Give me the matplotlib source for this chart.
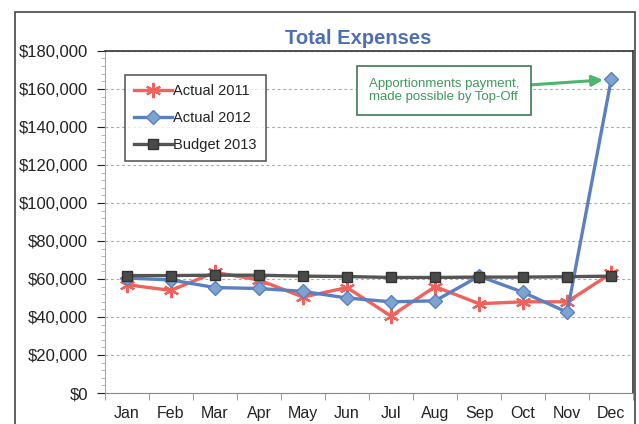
import matplotlib.pyplot as plt
from matplotlib.ticker import FuncFormatter, MultipleLocator, FixedLocator
from matplotlib.patches import Rectangle

plt.rcParams['font.family'] = ['Liberation Sans', 'DejaVu Sans']

months = ['Jan', 'Feb', 'Mar', 'Apr', 'May', 'Jun',
          'Jul', 'Aug', 'Sep', 'Oct', 'Nov', 'Dec']
actual_2011 = [57000, 54000, 63500, 59500, 50500, 55500,
               40500, 56000, 47000, 48000, 48000, 63000]
actual_2012 = [60500, 59500, 55500, 55000, 53500, 50000,
               48000, 48500, 61500, 53000, 42500, 165000]
budget_2013 = [61800, 61800, 62000, 62000, 61500, 61300,
               60800, 60800, 61000, 61000, 61200, 61500]

fig = plt.figure(figsize=(6.39, 4.24), dpi=100)
ax = fig.add_axes([0.164, 0.073, 0.827, 0.807])

x = range(len(months))
ax.plot(x, actual_2011, color='#f2625c', lw=2.4, marker=(6, 2, 0), ms=11,
        mew=1.6, mec='#f2625c', label='Actual 2011', zorder=3)
ax.plot(x, actual_2012, color='#5a80c2', lw=2.4, marker='D', ms=7.5,
        mfc='#7fa3cf', mec='#5a80c2', label='Actual 2012', zorder=4)
ax.plot(x, budget_2013, color='#555555', lw=2.4, marker='s', ms=7.5,
        mfc='#4a4a4a', mec='#333333', label='Budget 2013', zorder=5)

ax.set_xlim(-0.5, 11.5)
ax.set_ylim(0, 180000)
ax.yaxis.set_major_locator(MultipleLocator(20000))
ax.yaxis.set_minor_locator(MultipleLocator(4000))
ax.yaxis.set_major_formatter(FuncFormatter(lambda v, p: f'${v:,.0f}'))
ax.set_xticks(list(x))
ax.set_xticklabels(months)
ax.xaxis.set_minor_locator(FixedLocator([i + 0.5 for i in range(-1, 12)]))
ax.tick_params(axis='x', which='major', length=0, pad=9, labelsize=11.5,
               colors='#222222')
ax.tick_params(axis='x', which='minor', length=5, color='#888888')
ax.tick_params(axis='y', which='major', length=6, labelsize=12,
               colors='#222222', pad=6)
ax.tick_params(axis='y', which='minor', length=3, color='#aaaaaa')
ax.grid(axis='y', which='major', ls=(0, (2.5, 2.5)), color='#aaaaaa', lw=0.8)
for side in ['top', 'right']:
    ax.spines[side].set_color('#333333')
    ax.spines[side].set_linewidth(1.2)
ax.spines['left'].set_color('#aaaaaa')
ax.spines['bottom'].set_color('#888888')

ax.set_title('Total Expenses', fontsize=14.5, fontweight='bold',
             color='#4f6fb5', x=0.48, pad=5)

leg = ax.legend(loc='upper left', bbox_to_anchor=(0.025, 0.95),
                fontsize=10.5, frameon=True, fancybox=False,
                handlelength=2.6, handletextpad=0.1, borderpad=0.6,
                labelspacing=0.9)
leg.get_frame().set_edgecolor('#333333')
leg.get_frame().set_linewidth(1.2)
for t in leg.get_texts():
    t.set_color('#222222')

ax.annotate('Apportionments payment,\nmade possible by Top-Off',
            xy=(11, actual_2012[11]), xytext=(7.2, 159000),
            ha='center', va='center', multialignment='center',
            fontsize=9.5, color='#3d9a5c', linespacing=1.1,
            bbox=dict(boxstyle='square,pad=0.9', fc='white',
                      ec='#3d7a55', lw=1.2),
            arrowprops=dict(arrowstyle='-|>', color='#4cb56e', lw=2.2,
                            mutation_scale=16, shrinkA=0, shrinkB=6))

# outer chart border
fig.patches.append(Rectangle((15 / 639, -0.01), 0.97, 1 - 12 / 424 + 0.01,
                             transform=fig.transFigure, fill=False,
                             ec='#444444', lw=1.2))

fig.savefig('out.png', dpi=100)
